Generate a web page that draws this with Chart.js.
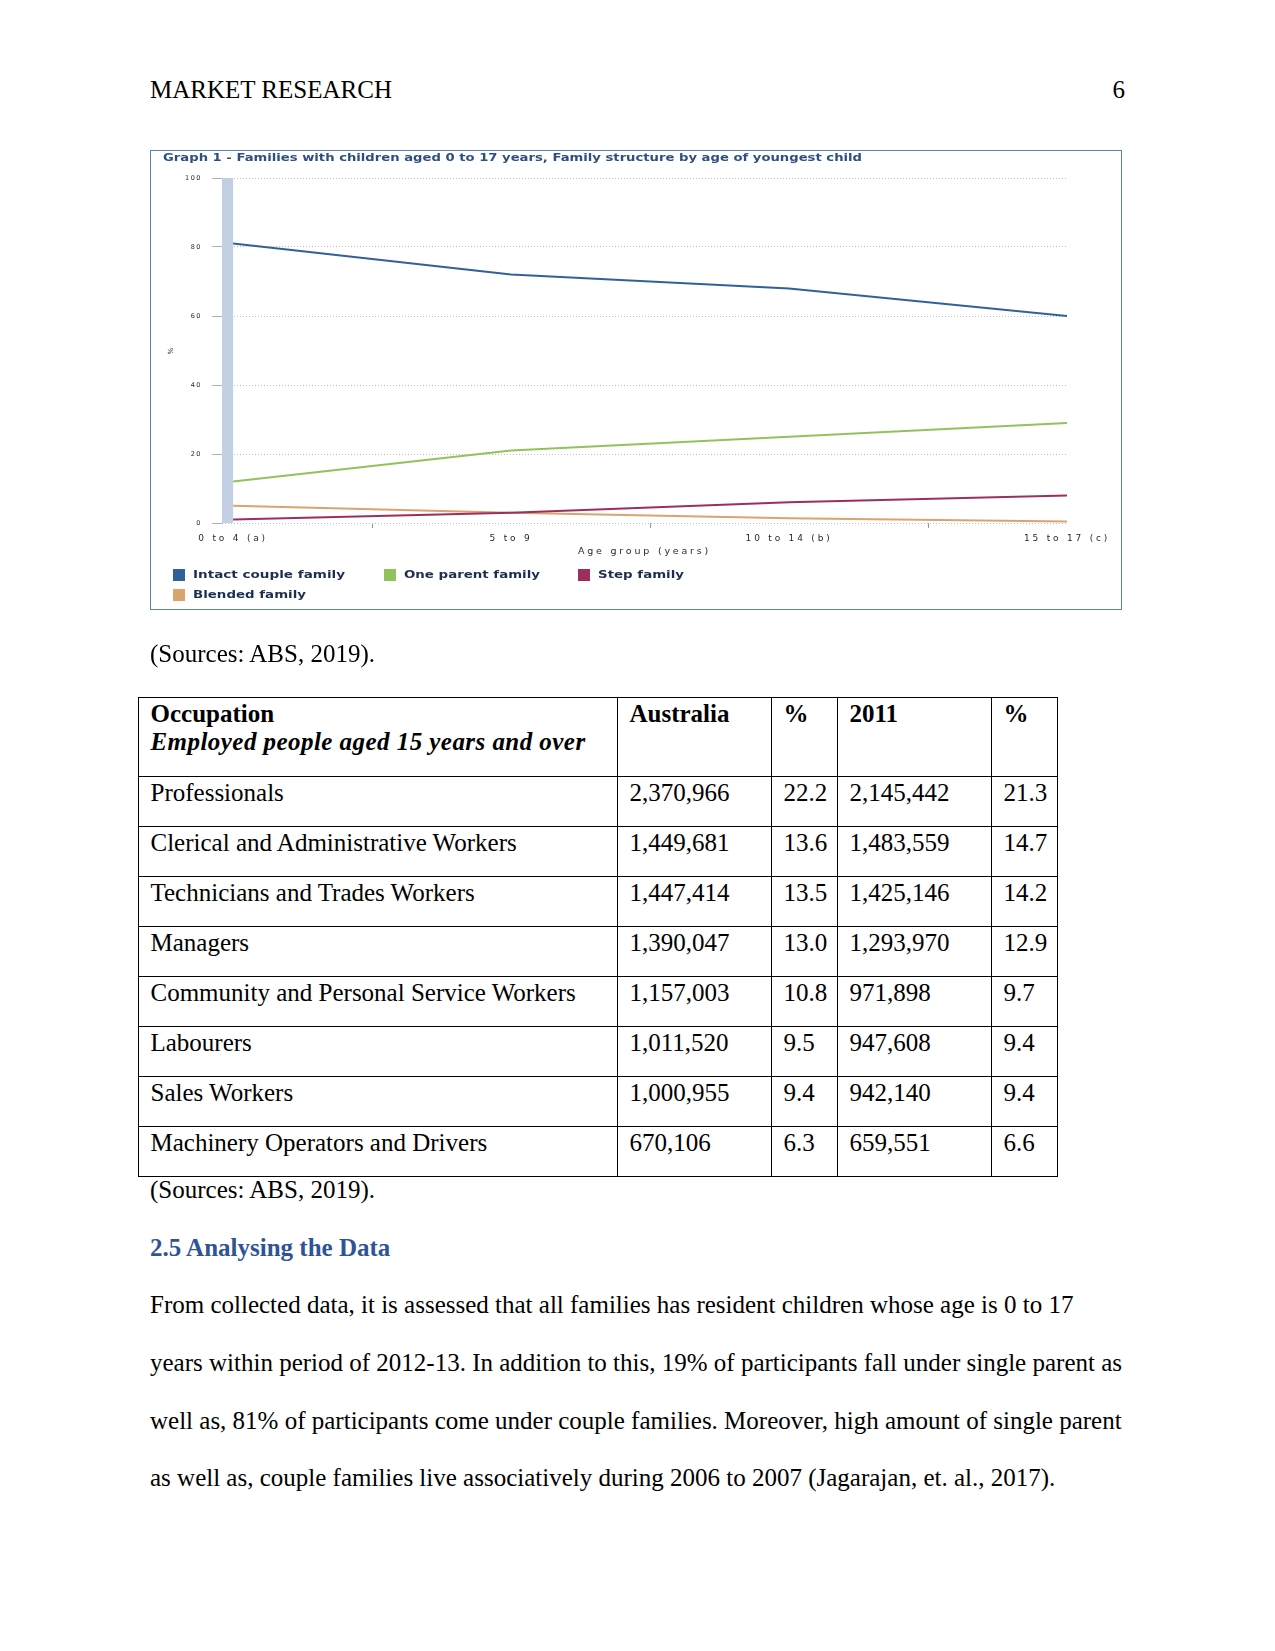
<!DOCTYPE html>
<html>
<head>
<meta charset="utf-8">
<script src="https://cdn.jsdelivr.net/npm/chart.js@4.4.1/dist/chart.umd.min.js"></script>
<style>
  html, body { margin: 0; padding: 0; background: #fff; }
  body { width: 1275px; height: 1651px; position: relative; overflow: hidden;
         font-family: "Liberation Serif", "Times New Roman", serif; color: #000; }
  .t { position: absolute; font-size: 25px; line-height: 25px; white-space: nowrap; }
  #box { position: absolute; left: 150px; top: 150px; width: 972px; height: 460px;
         border: 1.5px solid #5a82b4; box-sizing: border-box; }
  #cv { position: absolute; left: 150px; top: 150px; }
  .fit { position: absolute; white-space: nowrap; transform-origin: 0 50%;
         font-family: "DejaVu Sans", Verdana, sans-serif; font-weight: bold; }
  #ctitle { left: 163px; top: 152px; font-size: 10px; line-height: 12px; color: #2e4f80; }
  .lg { font-size: 10px; line-height: 12px; color: #1d2e4f; }
  .sw { position: absolute; width: 12px; height: 12px; }
  table { position: absolute; left: 138px; top: 697px; border-collapse: collapse;
          table-layout: fixed; width: 919px; font-size: 25px; }
  td { border: 1px solid #000; vertical-align: top; padding: 2px 8px 0 11.5px;
       line-height: 28px; white-space: nowrap; overflow: hidden; }
  tr.h { height: 79px; }
  tr.r { height: 50px; }
  #hd { color: #2F5496; font-weight: bold; }
</style>
</head>
<body>
<div class="t" style="left:150px; top:77px;">MARKET RESEARCH</div>
<div class="t" style="right:150px; top:77px;">6</div>

<div id="box"></div>
<canvas id="cv" width="972" height="460"></canvas>
<div id="ctitle" class="fit" data-w="699">Graph 1 - Families with children aged 0 to 17 years, Family structure by age of youngest child</div>
<div id="legend"></div>

<div class="t" style="left:150px; top:641px;">(Sources: ABS, 2019).</div>

<table>
  <colgroup><col style="width:479px"><col style="width:154px"><col style="width:66px"><col style="width:154px"><col style="width:66px"></colgroup>
  <tr class="h"><td><b>Occupation</b><br><b><i style="letter-spacing:0.45px">Employed people aged 15 years and over</i></b></td><td><b>Australia</b></td><td><b>%</b></td><td><b>2011</b></td><td><b>%</b></td></tr>
  <tr class="r"><td>Professionals</td><td>2,370,966</td><td>22.2</td><td>2,145,442</td><td>21.3</td></tr>
  <tr class="r"><td>Clerical and Administrative Workers</td><td>1,449,681</td><td>13.6</td><td>1,483,559</td><td>14.7</td></tr>
  <tr class="r"><td>Technicians and Trades Workers</td><td>1,447,414</td><td>13.5</td><td>1,425,146</td><td>14.2</td></tr>
  <tr class="r"><td>Managers</td><td>1,390,047</td><td>13.0</td><td>1,293,970</td><td>12.9</td></tr>
  <tr class="r"><td>Community and Personal Service Workers</td><td>1,157,003</td><td>10.8</td><td>971,898</td><td>9.7</td></tr>
  <tr class="r"><td>Labourers</td><td>1,011,520</td><td>9.5</td><td>947,608</td><td>9.4</td></tr>
  <tr class="r"><td>Sales Workers</td><td>1,000,955</td><td>9.4</td><td>942,140</td><td>9.4</td></tr>
  <tr class="r"><td>Machinery Operators and Drivers</td><td>670,106</td><td>6.3</td><td>659,551</td><td>6.6</td></tr>
</table>

<div class="t" style="left:150px; top:1177px;">(Sources: ABS, 2019).</div>
<div class="t" id="hd" style="left:150px; top:1235px;">2.5 Analysing the Data</div>
<div class="t" style="left:150px; top:1292px;">From collected data, it is assessed that all families has resident children whose age is 0 to 17</div>
<div class="t" style="left:150px; top:1350px;">years within period of 2012-13. In addition to this, 19% of participants fall under single parent as</div>
<div class="t" style="left:150px; top:1408px;">well as, 81% of participants come under couple families. Moreover, high amount of single parent</div>
<div class="t" style="left:150px; top:1465px;">as well as, couple families live associatively during 2006 to 2007 (Jagarajan, et. al., 2017).</div>

<script>
// ---- Chart data ----
const ageGroups = ['0 to 4 (a)', '5 to 9', '10 to 14 (b)', '15 to 17 (c)'];
const seriesNames = ['Intact couple family', 'One parent family', 'Step family', 'Blended family'];
const intactCouple = [81, 72, 68, 60];
const oneParent = [12, 21, 25, 29];
const stepFamily = [1, 3, 6, 8];
const blendedFamily = [5, 3, 1.4, 0.4];
const yTicks = [0, 20, 40, 60, 80, 100];
const xTickMarks = [0, 0.5, 1, 1.5, 2, 2.5, 3];

const seriesColors = ['#31619a', '#90c35c', '#9c2f5f', '#dca36e'];
const legendWidths = [152, 136, 86, 113];
const legendPos = [[173, 569], [384, 569], [578, 569], [173, 589]];

const allSeries = [intactCouple, oneParent, stepFamily, blendedFamily];

// HTML legend built from the series
const lg = document.getElementById('legend');
seriesNames.forEach((n, i) => {
  const sw = document.createElement('div');
  sw.className = 'sw';
  sw.style.left = legendPos[i][0] + 'px';
  sw.style.top = legendPos[i][1] + 'px';
  sw.style.background = seriesColors[i];
  lg.appendChild(sw);
  const tx = document.createElement('div');
  tx.className = 'fit lg';
  tx.textContent = n;
  tx.dataset.w = legendWidths[i];
  tx.style.left = (legendPos[i][0] + 20) + 'px';
  tx.style.top = legendPos[i][1] + 'px';
  lg.appendChild(tx);
});
document.querySelectorAll('.fit').forEach(el => {
  const w = el.getBoundingClientRect().width;
  el.style.transform = 'scaleX(' + (parseFloat(el.dataset.w) / w) + ')';
});

// letter spacing per scale (the source image is horizontally stretched)
const letterSpacingPlugin = {
  id: 'letterSpacing',
  beforeDraw(chart, args, opts) {
    Object.values(chart.scales).forEach(s => {
      if (s.$lsPatched) return;
      const sp = (opts.spacing && opts.spacing[s.id]) || '0px';
      ['drawLabels', 'drawTitle'].forEach(fn => {
        const orig = s[fn];
        s[fn] = function (...a) {
          const c = this.ctx; c.save();
          try { c.letterSpacing = sp; } catch (e) {}
          orig.apply(this, a); c.restore();
        };
      });
      s.$lsPatched = true;
    });
  }
};

// shaded column left of the first category
const shadePlugin = {
  id: 'shade',
  beforeDatasetsDraw(chart) {
    const { ctx, chartArea, scales } = chart;
    const x0 = scales.x.getPixelForValue(scales.x.min);
    const x1 = scales.x.getPixelForValue(0);
    ctx.save();
    ctx.fillStyle = '#c3cfe2';
    ctx.fillRect(x0, chartArea.top, x1 - x0, chartArea.bottom - chartArea.top);
    ctx.restore();
  }
};

new Chart(document.getElementById('cv'), {
  type: 'line',
  data: {
    datasets: seriesNames.map((n, i) => ({
      label: n,
      data: allSeries[i].map((v, j) => ({ x: j, y: v })),
      borderColor: seriesColors[i],
      backgroundColor: seriesColors[i],
      borderWidth: 2,
      pointRadius: 0,
      tension: 0,
      fill: false
    }))
  },
  options: {
    responsive: false,
    animation: false,
    devicePixelRatio: 1,
    layout: { padding: { left: 0, right: 55, top: 28, bottom: 47 } },
    plugins: {
      legend: { display: false },
      tooltip: { enabled: false },
      letterSpacing: { spacing: { x: '2.8px', y: '1.5px' } }
    },
    scales: {
      x: {
        type: 'linear',
        min: -0.04,
        max: 3,
        afterBuildTicks: (s) => { s.ticks = xTickMarks.map(v => ({ value: v })); },
        afterFit: (s) => { s.height = 40; },
        border: { display: false },
        grid: {
          drawOnChartArea: false,
          drawTicks: true,
          tickLength: 5,
          tickColor: (c) => (c.tick && Number.isInteger(c.tick.value)) ? 'rgba(0,0,0,0)' : '#9a9a9a'
        },
        ticks: {
          autoSkip: false,
          maxRotation: 0,
          padding: 5,
          color: '#2a2a2a',
          font: { family: 'DejaVu Sans', size: 9 },
          callback: (v) => Number.isInteger(v) ? ageGroups[v] : ''
        },
        title: {
          display: true,
          text: 'Age group (years)',
          color: '#2a2a2a',
          font: { family: 'DejaVu Sans', size: 9.5 },
          padding: { top: 0, bottom: 6 }
        }
      },
      y: {
        min: 0,
        max: 100,
        afterBuildTicks: (s) => { s.ticks = yTicks.map(v => ({ value: v })); },
        afterFit: (s) => { s.width = 72; },
        border: { display: false, dash: [1, 2] },
        grid: {
          color: '#bdbdbd',
          tickColor: '#b0b0b0',
          tickLength: 10,
          tickBorderDash: []
        },
        ticks: {
          padding: 10,
          color: '#2a2a2a',
          font: { family: 'DejaVu Sans', size: 6.5 }
        },
        title: {
          display: true,
          text: '%',
          color: '#2a2a2a',
          font: { family: 'DejaVu Sans', size: 7 },
          padding: { top: 17, bottom: 0 }
        }
      }
    }
  },
  plugins: [letterSpacingPlugin, shadePlugin]
});
</script>
</body>
</html>
